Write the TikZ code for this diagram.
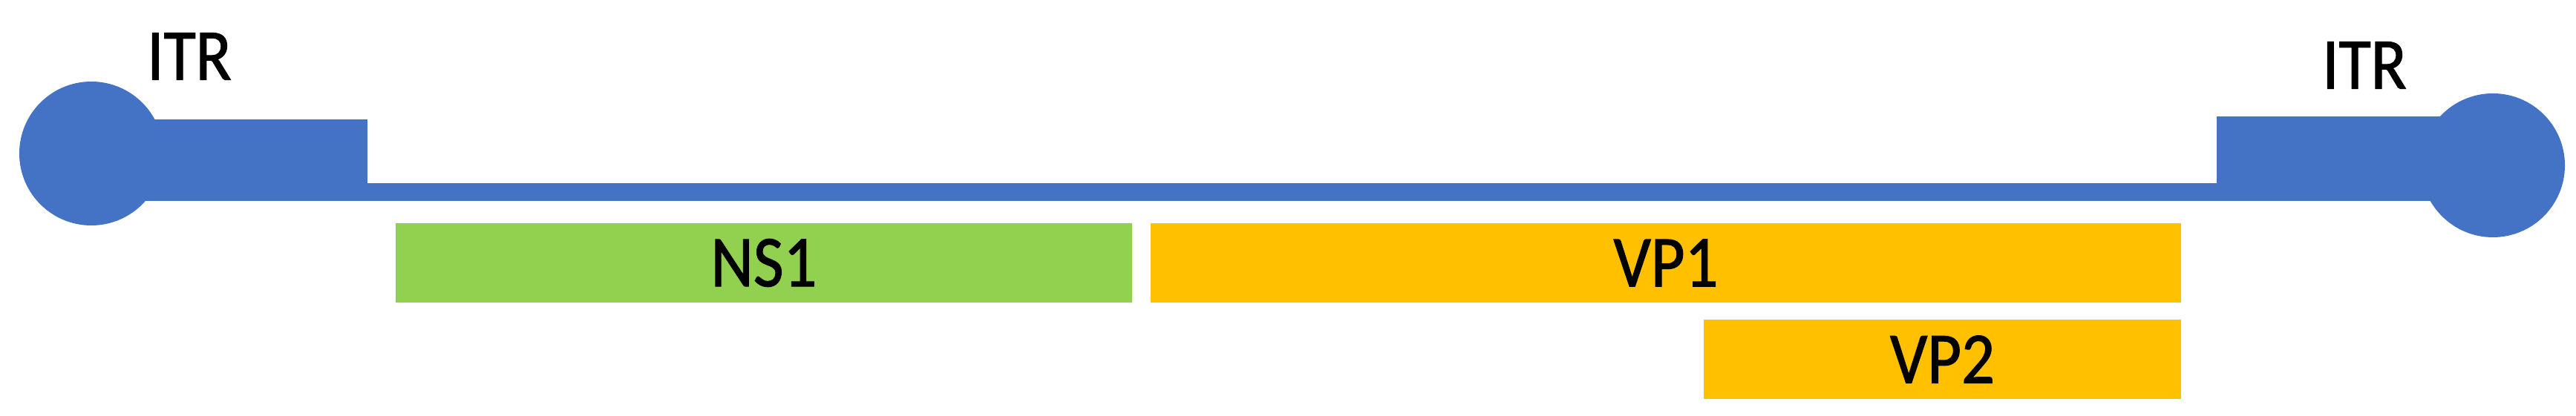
\documentclass[tikz,border=0pt]{standalone}
\usepackage{fontspec}
\setmainfont{Carlito}[FakeStretch=0.9, FakeBold=1.2]
\usetikzlibrary{positioning}
\definecolor{itrblue}{HTML}{4472C4}
\definecolor{nsgreen}{HTML}{92D050}
\definecolor{vporange}{HTML}{FFC000}
\tikzstyle{gene} = [rectangle, minimum height=1.07cm, inner sep=0pt, outer sep=0pt, text centered, font=\fontsize{28}{33}\selectfont]
\tikzstyle{label} = [inner sep=0pt, font=\fontsize{28}{33}\selectfont]
\tikzstyle{genome} = [fill=itrblue, draw=none]

\begin{document}
\begin{tikzpicture}
\useasboundingbox (0,0) rectangle (34.7,-5.61);
% genome with the two ITR ends
\fill [genome] (1.23,-2.07) circle (0.97);
\fill [genome] (1.23,-1.61) rectangle (4.95,-2.71);
\fill [genome] (1.23,-2.47) rectangle (33.58,-2.71);
\fill [genome] (29.86,-1.57) rectangle (33.58,-2.71);
\fill [genome] (33.58,-2.23) circle (0.97);
\node (itrL) [label] at (2.55,-0.76) {ITR};
\node (itrR) [label] at (31.85,-0.88) {ITR};
% coding regions
\node (NS1) [gene, fill=nsgreen, minimum width=9.92cm] at (10.29,-3.545) {NS1};
\node (VP1) [gene, fill=vporange, minimum width=13.88cm, right=0.25cm of NS1] {VP1};
\node (VP2) [gene, fill=vporange, minimum width=6.43cm, below=0.23cm of VP1.south east, anchor=north east] {VP2};
\end{tikzpicture}
\end{document}
